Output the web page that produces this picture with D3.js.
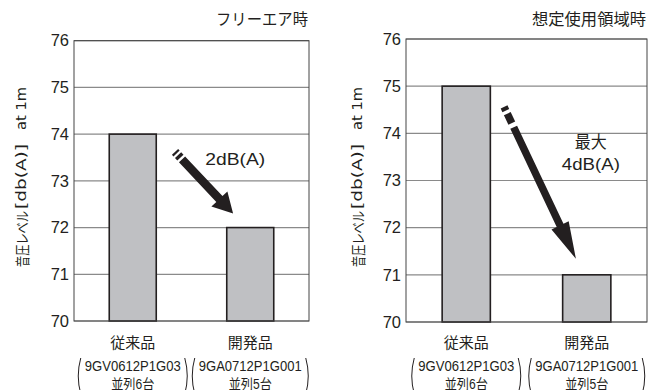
<!DOCTYPE html>
<html><head><meta charset="utf-8">
<script src="https://cdn.jsdelivr.net/npm/d3@7/dist/d3.min.js"></script>
<style>
html,body{margin:0;padding:0;background:#fff;}
svg{display:block;font-family:"Liberation Sans","Noto Sans CJK JP",sans-serif;}
</style></head>
<body><svg id="c" width="661" height="390"></svg>
<script>
// ---- data ----
const categories = ["従来品", "開発品"];
const models = ["9GV0612P1G03", "9GA0712P1G001"];
const unitCounts = ["並列6台", "並列5台"];
const freeAirValues = [74, 72];
const operatingValues = [75, 71];
const yTicks = [70, 71, 72, 73, 74, 75, 76];
const panelTitles = ["フリーエア時", "想定使用領域時"];
const yAxisLabelParts = ["音圧レベル", "[db(A)]", "at 1m"];
const freeAirNote = ["2dB(A)"];
const operatingNote = ["最大", "4dB(A)"];

const svg = d3.select("#c");
const ink = "#231f20";

const panels = [
  { values: freeAirValues, title: panelTitles[0], titleLen: 92, note: freeAirNote,
    x0: 74, x1: 309, yTop: 40.7, yBot: 321, labelX: 21,
    arrow: { s: [0.43, 73.62], e: [0.677, 72.3], w: 8.5, hw: 22, hl: 20,
             dashes: [[0, 2.2], [4.4, 7.8]], solidFrom: 10.2 },
    noteX: 0.686, noteY: [73.34], noteLen: [60] },
  { values: operatingValues, title: panelTitles[1], titleLen: 114, note: operatingNote,
    x0: 406, x1: 647, yTop: 39, yBot: 322, labelX: 357,
    arrow: { s: [0.407, 74.56], e: [0.705, 71.34], w: 7.5, hw: 19, hl: 37,
             dashes: [[0, 4], [7.5, 18]], solidFrom: 22.5 },
    noteX: 0.767, noteY: [73.68, 73.22], noteLen: [32, 58] }
];

// y-label piece layout along the rotated axis: [offset, length, font size, family]
const yLabelLayout = [
  [0, 56, 14.5, "Noto Sans CJK JP"],
  [58, 65, 13.5, "DejaVu Sans"],
  [137, 43, 13.5, "DejaVu Sans"]
];

panels.forEach(p => {
  const g = svg.append("g");
  const x = d3.scaleBand().domain(categories).range([p.x0, p.x1])
    .paddingInner(0.6).paddingOuter(0.3);
  const y = d3.scaleLinear().domain([70, 76]).range([p.yBot, p.yTop]);
  const fx = d3.scaleLinear().domain([0, 1]).range([p.x0, p.x1]);

  // gridlines
  g.selectAll(".grid").data(yTicks).join("line")
    .attr("x1", p.x0).attr("x2", p.x1)
    .attr("y1", d => y(d)).attr("y2", d => y(d))
    .attr("stroke", "#8a8a8a").attr("stroke-width", 1.2);

  // bars
  g.selectAll(".bar").data(p.values).join("rect")
    .attr("x", (d, i) => x(categories[i]))
    .attr("width", x.bandwidth())
    .attr("y", d => y(d))
    .attr("height", d => y(70) - y(d))
    .attr("fill", "#bfc0c3").attr("stroke", ink).attr("stroke-width", 1.6);

  // frame
  g.append("rect").attr("x", p.x0).attr("y", y(76))
    .attr("width", p.x1 - p.x0).attr("height", y(70) - y(76))
    .attr("fill", "none").attr("stroke", "#444").attr("stroke-width", 1);

  // y axis tick labels
  const yAxis = d3.axisLeft(y).tickValues(yTicks).tickSize(0).tickPadding(5)
    .tickFormat(d3.format("d"));
  const ax = g.append("g").attr("transform", `translate(${p.x0},0)`).call(yAxis);
  ax.select(".domain").remove();
  ax.selectAll("text").attr("font-size", 16.5).attr("fill", ink)
    .attr("font-family", "Liberation Sans, sans-serif");

  // y axis label (rotated, reading bottom to top)
  const yl = g.append("g").attr("transform", `translate(${p.labelX},267) rotate(-90)`);
  yAxisLabelParts.forEach((t, i) => {
    const [off, len, fs, fam] = yLabelLayout[i];
    yl.append("text").attr("x", off).attr("y", 0)
      .attr("dominant-baseline", "central").attr("fill", ink)
      .attr("font-size", fs).attr("font-family", fam)
      .attr("textLength", len).attr("lengthAdjust", "spacingAndGlyphs")
      .text(t);
  });

  // title
  g.append("text").attr("x", p.x1 - 1).attr("y", 25)
    .attr("text-anchor", "end").attr("font-size", 16).attr("fill", ink)
    .attr("textLength", p.titleLen).attr("lengthAdjust", "spacingAndGlyphs")
    .text(p.title);

  // category labels
  categories.forEach((c, i) => {
    const cx = x(c) + x.bandwidth() / 2;
    g.append("text").attr("x", cx).attr("y", 348)
      .attr("text-anchor", "middle").attr("font-size", 15).attr("fill", ink)
      .text(c);
    const mlen = i === 0 ? 96 : 103;
    g.append("text").attr("x", cx).attr("y", 370.5)
      .attr("text-anchor", "middle").attr("font-size", 14.5).attr("fill", ink)
      .attr("textLength", mlen).attr("lengthAdjust", "spacingAndGlyphs")
      .text(models[i]);
    g.append("text").attr("x", cx).attr("y", 388.5)
      .attr("text-anchor", "middle").attr("font-size", 14).attr("fill", ink)
      .attr("textLength", 43).attr("lengthAdjust", "spacingAndGlyphs")
      .text(unitCounts[i]);
    const half = mlen / 2 + 5;
    [-1, 1].forEach(sgn => {
      const px = cx + sgn * half;
      g.append("path")
        .attr("d", `M${px - sgn * 1},358 Q${px + sgn * 4},376 ${px - sgn * 1},394`)
        .attr("fill", "none").attr("stroke", ink).attr("stroke-width", 1);
    });
  });

  // arrow
  const a = p.arrow;
  const sx = fx(a.s[0]), sy = y(a.s[1]), ex = fx(a.e[0]), ey = y(a.e[1]);
  const L = Math.hypot(ex - sx, ey - sy);
  const ux = (ex - sx) / L, uy = (ey - sy) / L, nx = -uy, ny = ux;
  const pt = (t, o) => [sx + ux * t + nx * o, sy + uy * t + ny * o];
  const poly = pts => "M" + pts.map(q => q.join(",")).join("L") + "Z";
  const hb = L - a.hl;
  g.append("path").attr("fill", ink)
    .attr("d", poly([pt(a.solidFrom, -a.w / 2), pt(hb, -a.w / 2), pt(hb, -a.hw / 2),
                     pt(L, 0), pt(hb, a.hw / 2), pt(hb, a.w / 2), pt(a.solidFrom, a.w / 2)]));
  a.dashes.forEach(d => {
    g.append("path").attr("fill", ink)
      .attr("d", poly([pt(d[0], -a.w / 2), pt(d[1], -a.w / 2), pt(d[1], a.w / 2), pt(d[0], a.w / 2)]));
  });

  // note
  p.note.forEach((t, i) => {
    g.append("text").attr("x", fx(p.noteX)).attr("y", y(p.noteY[i]))
      .attr("text-anchor", "middle").attr("font-size", 17).attr("fill", ink)
      .attr("textLength", p.noteLen[i]).attr("lengthAdjust", "spacingAndGlyphs")
      .text(t);
  });
});
</script></body></html>
